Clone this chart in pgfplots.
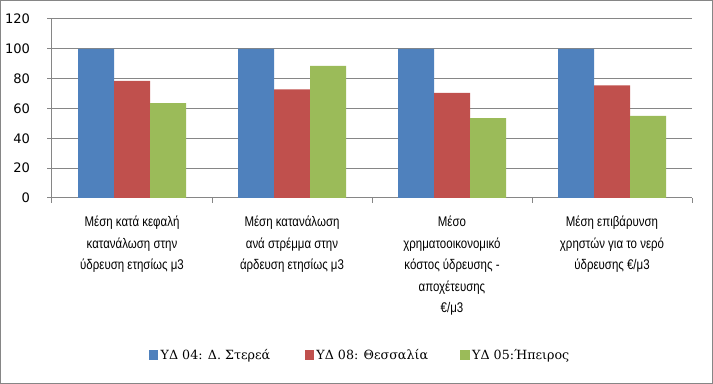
\documentclass[border=0pt]{standalone}
\usepackage{fontspec}
\setmainfont{Liberation Sans}
\newfontfamily\catfont[FakeStretch=0.82]{Liberation Sans}
\newfontfamily\legfont{DejaVu Serif}
\newfontfamily\tickfont{DejaVu Sans}
\usepackage{pgfplots}
\pgfplotsset{compat=1.18}
\definecolor{axgray}{RGB}{134,134,134}
\definecolor{sBlue}{RGB}{79,129,189}
\definecolor{sRed}{RGB}{192,80,77}
\definecolor{sGreen}{RGB}{155,187,89}
\begin{document}
\begin{tikzpicture}
\begin{axis}[
  at={(0,0)}, anchor=south west,
  scale only axis, width=480pt, height=134.25pt,
  xmin=0.5, xmax=4.5, ymin=0, ymax=120,
  ytick={0,20,...,120},
  xtick={0.5,1.5,2.5,3.5,4.5},
  x tick label as interval,
  xticklabels={{Μέση κατά κεφαλή\\κατανάλωση στην\\ύδρευση ετησίως μ3},
               {Μέση κατανάλωση\\ανά στρέμμα στην\\άρδευση ετησίως μ3},
               {Μέσο\\χρηματοοικονομικό\\κόστος ύδρευσης -\\αποχέτευσης\\€/μ3},
               {Μέση επιβάρυνση\\χρηστών για το νερό\\ύδρευσης €/μ3}},
  xticklabel style={align=center, anchor=north, font=\catfont\fontsize{10.5}{16.2}\selectfont, yshift=-6.5pt},
  yticklabel style={font=\tickfont\fontsize{9.8}{12}\selectfont, xshift=-9.5pt},
  /pgf/number format/assume math mode=true,
  axis x line*=bottom, axis y line*=left,
  axis line style={axgray, line width=0.75pt},
  tick style={axgray, line width=0.75pt},
  tick align=outside, major tick length=3.5pt,
  ymajorgrids, grid style={axgray, line width=0.75pt},
  ybar=0pt, bar width=27pt,
  legend columns=3,
  legend style={draw=none, font=\legfont\fontsize{9.5}{12}\selectfont,
    at={(0.482,-0.877)}, anchor=center,
    /tikz/every even column/.append style={column sep=0pt}},
  legend image code/.code={\fill[#1] (0pt,-3.4pt) rectangle (6.8pt,3.4pt);},
]
\addplot[fill=sBlue, draw=none] coordinates {(1,100) (2,100) (3,100) (4,100)};
\addplot[fill=sRed, draw=none] coordinates {(1,78.5) (2,72.9) (3,70.4) (4,75.5)};
\addplot[fill=sGreen, draw=none] coordinates {(1,63.6) (2,88.5) (3,53.6) (4,55)};
\legend{\makebox[106pt][l]{ΥΔ 04: Δ. Στερεά}, \makebox[106pt][l]{ΥΔ 08: Θεσσαλία}, ΥΔ 05:Ήπειρος}
\end{axis}
\draw[axgray, line width=0.75pt] (-38.625pt,-139.125pt) rectangle (495.375pt,148.125pt);
\pgfresetboundingbox
\useasboundingbox (-39pt,-139.5pt) rectangle (495.75pt,148.5pt);
\end{tikzpicture}
\end{document}
